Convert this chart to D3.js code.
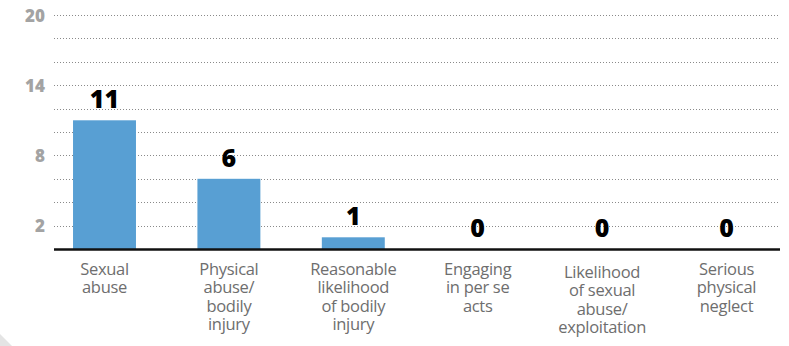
<!DOCTYPE html>
<html><head><meta charset="utf-8">
<script src="https://cdn.jsdelivr.net/npm/d3@7"></script>
<style>
html,body{margin:0;padding:0;background:#fff;}
svg{display:block;}
</style></head>
<body>
<svg id="chart" width="789" height="346"></svg>
<script>
const categories = [
  ["Sexual","abuse"],
  ["Physical","abuse/","bodily","injury"],
  ["Reasonable","likelihood","of bodily","injury"],
  ["Engaging","in per se","acts"],
  ["Likelihood","of sexual","abuse/","exploitation"],
  ["Serious","physical","neglect"]
];
const values = [11, 6, 1, 0, 0, 0];
const tickLabels = [2, 8, 14, 20];
const gridValues = [2,4,6,8,10,12,14,16,18,20];

const svg = d3.select("#chart");
const plotLeft = 54, plotRight = 780, y0 = 249, yTop = 15;

const x = d3.scaleBand()
  .domain(d3.range(categories.length))
  .range([42.3, 788.7])
  .paddingInner(0.494)
  .paddingOuter(0.247);
const y = d3.scaleLinear().domain([0, 20]).range([y0, yTop]);

// corner decoration
svg.append("path").attr("d", "M0,334 L12,346 L0,346 Z").attr("fill", "#e4e4e4");

// gridlines
svg.append("g").selectAll("line").data(gridValues).join("line")
  .attr("x1", plotLeft).attr("x2", plotRight)
  .attr("y1", d => Math.round(y(d)) + 0.5).attr("y2", d => Math.round(y(d)) + 0.5)
  .attr("stroke", "#8a8a8a").attr("stroke-width", 1).attr("stroke-dasharray", "1,2");

// y tick labels via axis
const yAxis = d3.axisLeft(y).tickValues(tickLabels).tickSize(0).tickPadding(0);
const ga = svg.append("g").attr("transform", "translate(45,0)").call(yAxis);
ga.select(".domain").remove();
ga.selectAll("text")
  .attr("font-family", "'Open Sans', sans-serif")
  .attr("font-weight", 800).attr("font-size", 17)
  .attr("fill", "#a3a3a3").attr("dy", "0.36em");

// bars
svg.append("g").selectAll("rect").data(values).join("rect")
  .attr("x", (d, i) => x(i)).attr("width", x.bandwidth())
  .attr("y", d => y(d)).attr("height", d => y0 - y(d))
  .attr("fill", "#589fd3");

// baseline
svg.append("line").attr("x1", plotLeft).attr("x2", plotRight)
  .attr("y1", y0 + 0.5).attr("y2", y0 + 0.5)
  .attr("stroke", "#111").attr("stroke-width", 2.5);

// value labels
svg.append("g").selectAll("text").data(values).join("text")
  .attr("x", (d, i) => x(i) + x.bandwidth() / 2)
  .attr("y", d => y(d) - 12)
  .attr("text-anchor", "middle")
  .attr("font-family", "'Open Sans', sans-serif")
  .attr("font-weight", 800).attr("font-size", 25)
  .attr("fill", "#000")
  .text(d => d);

// category labels
const cg = svg.append("g");
categories.forEach((lines, i) => {
  const t = cg.append("text")
    .attr("x", x(i) + x.bandwidth() / 2)
    .attr("y", 275 + (i === 4 ? 3 : 0))
    .attr("text-anchor", "middle")
    .attr("font-family", "'Open Sans', sans-serif")
    .attr("font-size", 16.5).attr("font-weight", 500).attr("fill", "#6e6e6e")
    .attr("letter-spacing", -0.3);
  lines.forEach((l, k) => {
    t.append("tspan").attr("x", x(i) + x.bandwidth() / 2)
      .attr("dy", k === 0 ? 0 : 18.3).text(l);
  });
});
</script>
</body></html>
